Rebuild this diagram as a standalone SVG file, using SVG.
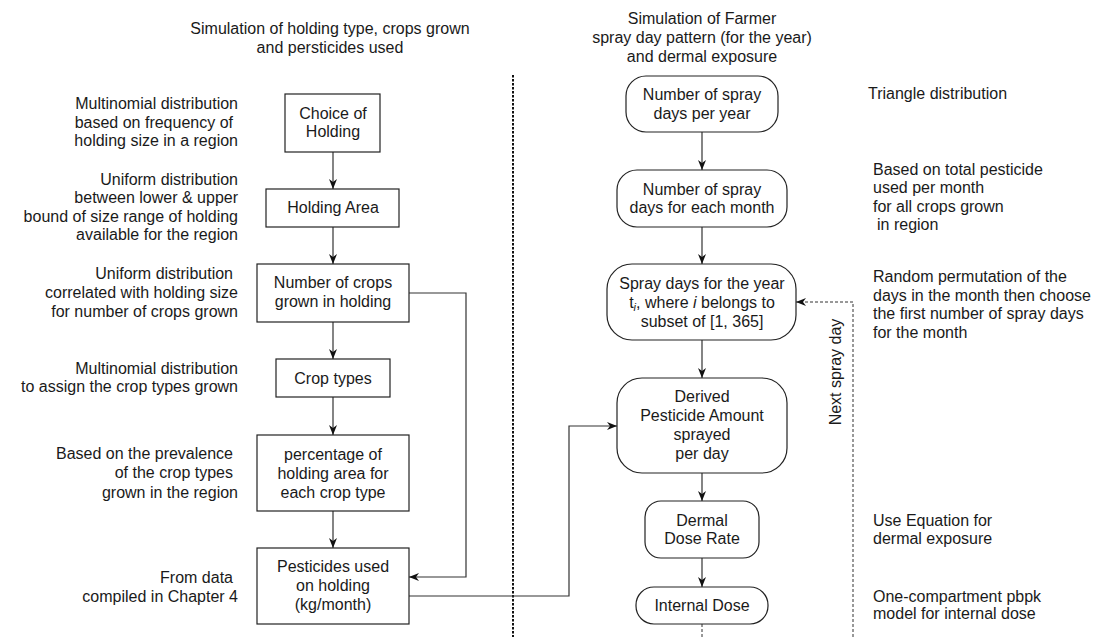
<svg xmlns="http://www.w3.org/2000/svg" width="1099" height="637" viewBox="0 0 1099 637">
<defs>
<style>
text{font-family:"Liberation Sans",Arial,sans-serif;font-size:16px;fill:#1a1a1a}
.c{text-anchor:middle}
.e{text-anchor:end}
.box{fill:#fff;stroke:#222;stroke-width:1.2}
.ln{fill:none;stroke:#333;stroke-width:1.2}
.dash{fill:none;stroke:#333;stroke-width:1;stroke-dasharray:3 2}
.div{fill:none;stroke:#111;stroke-width:2;stroke-dasharray:2.5 1.5}
</style>
<marker id="ah" viewBox="0 0 10 8" refX="10" refY="4" markerWidth="10" markerHeight="8" markerUnits="userSpaceOnUse" orient="auto">
<path d="M0,0 L10,4 L0,8 L3,4 z" fill="#111"/>
</marker>
</defs>
<rect width="1099" height="637" fill="#fff"/>

<g id="titles">
<text class="c" x="330" y="34">Simulation of holding type, crops grown</text>
<text class="c" x="330" y="53">and persticides used</text>
<text class="c" x="702" y="24">Simulation of Farmer</text>
<text class="c" x="702" y="43">spray day pattern (for the year)</text>
<text class="c" x="702" y="62">and dermal exposure</text>
</g>

<g id="annotations-left">
<text class="e" x="238" y="109">Multinomial distribution</text>
<text class="e" x="233" y="128">based on frequency of</text>
<text class="e" x="238" y="146">holding size in a region</text>
<text class="e" x="238" y="185">Uniform distribution</text>
<text class="e" x="238" y="203">between lower &amp; upper</text>
<text class="e" x="238" y="222">bound of size range of holding</text>
<text class="e" x="238" y="240">available for the region</text>
<text class="e" x="233" y="279">Uniform distribution</text>
<text class="e" x="238" y="298">correlated with holding size</text>
<text class="e" x="238" y="317">for number of crops grown</text>
<text class="e" x="238" y="374">Multinomial distribution</text>
<text class="e" x="238" y="392">to assign the crop types grown</text>
<text class="e" x="233" y="459">Based on the prevalence</text>
<text class="e" x="233" y="478">of the crop types</text>
<text class="e" x="238" y="498">grown in the region</text>
<text class="e" x="233" y="583">From data</text>
<text class="e" x="238" y="602">compiled in Chapter 4</text>
</g>

<g id="annotations-right">
<text x="868" y="99">Triangle distribution</text>
<text x="873" y="175">Based on total pesticide</text>
<text x="873" y="193">used per month</text>
<text x="873" y="212">for all crops grown</text>
<text x="877" y="230">in region</text>
<text x="873" y="282">Random permutation of the</text>
<text x="873" y="301">days in the month then choose</text>
<text x="873" y="319">the first number of spray days</text>
<text x="873" y="338">for the month</text>
<text x="873" y="526">Use Equation for</text>
<text x="873" y="544">dermal exposure</text>
<text x="873" y="602">One-compartment pbpk</text>
<text x="873" y="619">model for internal dose</text>
</g>

<g id="connectors">
<line class="div" x1="513" y1="75" x2="513" y2="637"/>
<line class="ln" x1="333" y1="152" x2="333" y2="189" marker-end="url(#ah)"/>
<line class="ln" x1="333" y1="227" x2="333" y2="264" marker-end="url(#ah)"/>
<line class="ln" x1="333" y1="322" x2="333" y2="359" marker-end="url(#ah)"/>
<line class="ln" x1="333" y1="397" x2="333" y2="435" marker-end="url(#ah)"/>
<line class="ln" x1="333" y1="511" x2="333" y2="548" marker-end="url(#ah)"/>
<polyline class="ln" points="409,293 466,293 466,577 409,577" marker-end="url(#ah)"/>
<polyline class="ln" points="409,596 569,596 569,426 617,426" marker-end="url(#ah)"/>
<line class="ln" x1="702" y1="132" x2="702" y2="170" marker-end="url(#ah)"/>
<line class="ln" x1="702" y1="227" x2="702" y2="264" marker-end="url(#ah)"/>
<line class="ln" x1="702" y1="340" x2="702" y2="378" marker-end="url(#ah)"/>
<line class="ln" x1="702" y1="473" x2="702" y2="501" marker-end="url(#ah)"/>
<line class="ln" x1="702" y1="558" x2="702" y2="587" marker-end="url(#ah)"/>
<line class="dash" x1="702" y1="624" x2="702" y2="637"/>
<polyline class="dash" points="853,637 853,302 796,302" marker-end="url(#ah)"/>
<text class="c" x="841" y="372" transform="rotate(-90 841 372)">Next spray day</text>
</g>

<g id="n-choice">
<rect class="box" x="285" y="94" width="95" height="58"/>
<text class="c" x="333" y="119">Choice of</text>
<text class="c" x="333" y="137">Holding</text>
</g>
<g id="n-area">
<rect class="box" x="266" y="189" width="133" height="38"/>
<text class="c" x="333" y="213">Holding Area</text>
</g>
<g id="n-numcrops">
<rect class="box" x="257" y="264" width="152" height="58"/>
<text class="c" x="333" y="288">Number of crops</text>
<text class="c" x="333" y="307">grown in holding</text>
</g>
<g id="n-croptypes">
<rect class="box" x="276" y="359" width="114" height="38"/>
<text class="c" x="333" y="384">Crop types</text>
</g>
<g id="n-percentage">
<rect class="box" x="257" y="435" width="152" height="76"/>
<text class="c" x="333" y="460">percentage of</text>
<text class="c" x="333" y="479">holding area for</text>
<text class="c" x="333" y="498">each crop type</text>
</g>
<g id="n-pesticides">
<rect class="box" x="257" y="548" width="152" height="76"/>
<text class="c" x="333" y="572">Pesticides used</text>
<text class="c" x="333" y="591">on holding</text>
<text class="c" x="333" y="610">(kg/month)</text>
</g>

<g id="n-sprayyear">
<rect class="box" x="626" y="76" width="152" height="56" rx="20" ry="20"/>
<text class="c" x="702" y="100">Number of spray</text>
<text class="c" x="702" y="119">days per year</text>
</g>
<g id="n-spraymonth">
<rect class="box" x="617" y="170" width="170" height="57" rx="20" ry="20"/>
<text class="c" x="702" y="195">Number of spray</text>
<text class="c" x="702" y="213">days for each month</text>
</g>
<g id="n-spraydays">
<rect class="box" x="607" y="264" width="189" height="76" rx="25" ry="25"/>
<text class="c" x="702" y="289">Spray days for the year</text>
<text class="c" x="702" y="308">t<tspan font-size="11" font-style="italic" dy="3">i</tspan><tspan dy="-3">, where </tspan><tspan font-style="italic">i</tspan> belongs to</text>
<text class="c" x="702" y="327">subset of [1, 365]</text>
</g>
<g id="n-derived">
<rect class="box" x="617" y="378" width="170" height="95" rx="25" ry="25"/>
<text class="c" x="702" y="402">Derived</text>
<text class="c" x="702" y="421">Pesticide Amount</text>
<text class="c" x="702" y="440">sprayed</text>
<text class="c" x="702" y="459">per day</text>
</g>
<g id="n-dermal">
<rect class="box" x="645" y="501" width="114" height="57" rx="16" ry="16"/>
<text class="c" x="702" y="526">Dermal</text>
<text class="c" x="702" y="544">Dose Rate</text>
</g>
<g id="n-internal">
<rect class="box" x="636" y="587" width="132" height="37" rx="18" ry="18"/>
<text class="c" x="702" y="611">Internal Dose</text>
</g>
</svg>
